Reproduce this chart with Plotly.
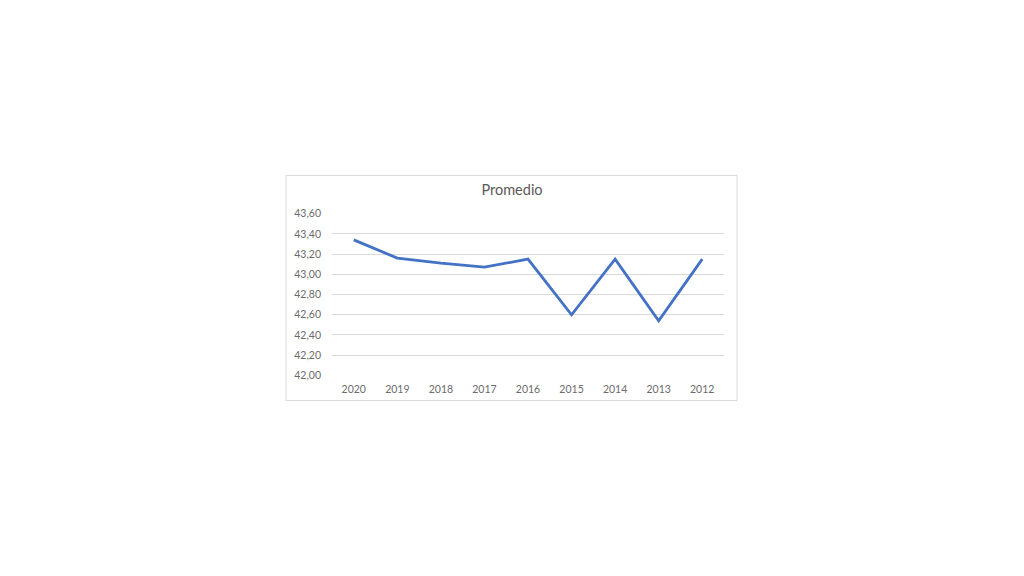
import plotly.graph_objects as go

years = ['2020', '2019', '2018', '2017', '2016', '2015', '2014', '2013', '2012']
promedio = [43.34, 43.16, 43.11, 43.07, 43.15, 42.60, 43.15, 42.54, 43.15]
y_ticks = [42.0, 42.2, 42.4, 42.6, 42.8, 43.0, 43.2, 43.4, 43.6]
y_labels = ['42,00', '42,20', '42,40', '42,60', '42,80', '43,00', '43,20', '43,40', '43,60']

W, H = 1024, 576

fig = go.Figure(go.Scatter(
    x=years, y=promedio, mode='lines',
    line=dict(color='#4472C4', width=2.8),
    showlegend=False,
))

fig.update_layout(
    width=W, height=H,
    margin=dict(l=0, r=0, t=0, b=0),
    paper_bgcolor='white', plot_bgcolor='white',
    font=dict(family='Lato, Open Sans, sans-serif', color='#595959', size=10.5),
    title=dict(text='Promedio', x=512/W, xanchor='center', y=1-190/H, yanchor='middle',
               font=dict(size=14.5, color='#595959')),
    xaxis=dict(domain=[332/W, 724/W], range=[-0.5, len(years)-0.5],
               showgrid=False, showline=False, zeroline=False,
               ticks='', ticklabelstandoff=6, tickfont=dict(size=10.5, color='#6b6b6b')),
    yaxis=dict(domain=[(H-377.3)/H, (H-212)/H], range=[42.0, 43.6],
               tickvals=y_ticks, ticktext=y_labels, showgrid=True, gridcolor='#d9d9d9',
               gridwidth=1, zeroline=False, showline=False, ticks='',
               ticklabelstandoff=10, tickfont=dict(size=10.5, color='#6b6b6b')),
    shapes=[dict(type='rect', xref='paper', yref='paper',
                 x0=286/W, x1=737/W, y0=(H-403)/H, y1=(H-173)/H,
                 line=dict(color='#d9d9d9', width=1), layer='below')],
)

fig.write_html("out.html", config={'displayModeBar': False},
               post_script="document.body.style.margin='0';document.body.style.overflow='hidden';")
